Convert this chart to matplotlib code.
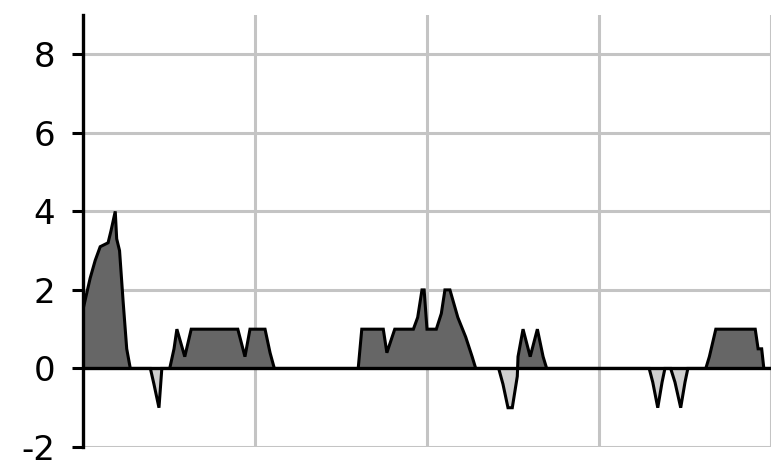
import matplotlib
matplotlib.use("Agg")
import matplotlib.pyplot as plt
import numpy as np

# Hourly net balance over four days (hours 0-96)
hours = [0, 1.0, 1.7, 2.4, 3.5, 3.9, 4.5, 4.7, 5.1, 5.6, 6.1, 6.6,
         9.4, 9.9, 10.6, 11.0,
         12.1, 12.7, 13.1, 14.2, 15.1, 21.6, 22.6, 23.3, 25.4, 26.1, 26.7,
         38.4, 38.9, 41.9, 42.4, 43.5, 46.1, 46.7, 47.3, 47.6, 48.0, 49.3,
         50.0, 50.5, 51.2, 52.3, 53.4, 54.3, 54.8,
         58.0, 58.6, 59.3, 59.9, 60.6, 60.7, 61.4, 62.4, 63.4, 64.2, 64.7,
         79.0, 79.5, 80.2, 80.8, 81.2, 82.0, 82.6, 83.4, 84.0, 84.4,
         86.9, 87.4, 88.3, 93.8, 94.2, 94.7, 95.0, 96]
values = [1.5, 2.3, 2.75, 3.1, 3.2, 3.5, 4.0, 3.3, 3.0, 1.7, 0.5, 0,
          0, -0.4, -1.0, 0,
          0, 0.5, 1.0, 0.3, 1.0, 1.0, 0.3, 1.0, 1.0, 0.4, 0,
          0, 1.0, 1.0, 0.4, 1.0, 1.0, 1.3, 2.0, 2.0, 1.0, 1.0,
          1.4, 2.0, 2.0, 1.3, 0.8, 0.3, 0,
          0, -0.4, -1.0, -1.0, -0.2, 0.3, 1.0, 0.3, 1.0, 0.3, 0,
          0, -0.35, -1.0, -0.35, 0, 0, -0.35, -1.0, -0.35, 0,
          0, 0.3, 1.0, 1.0, 0.5, 0.5, 0, 0]

y_ticks = [-2, 0, 2, 4, 6, 8]
day_lines = [24, 48, 72, 96]

x = np.array(hours)
y = np.array(values)

fig = plt.figure(figsize=(7.71, 4.71), dpi=100)
ax = fig.add_axes([83 / 771, 24 / 471, 688 / 771, 432 / 471])

ax.set_xlim(0, 96)
ax.set_ylim(-2, 9)

grid_color = "#c4c4c4"
for yt in y_ticks:
    if yt != 0:
        ax.axhline(yt, color=grid_color, lw=2.2, zorder=0)
for xd in day_lines:
    ax.axvline(xd, color=grid_color, lw=2.2, zorder=0)

ax.fill_between(x, 0, y, where=y >= 0, interpolate=True,
                color="#666666", lw=0, zorder=2)
ax.fill_between(x, 0, y, where=y <= 0, interpolate=True,
                color="#cfcfcf", lw=0, zorder=2)
ax.plot(x, y, color="black", lw=2.2, zorder=3, solid_joinstyle="miter")
ax.axhline(0, color="black", lw=2.4, zorder=4)

for side in ("top", "right", "bottom"):
    ax.spines[side].set_visible(False)
ax.spines["left"].set_linewidth(2.4)
ax.spines["left"].set_zorder(5)

ax.set_yticks(y_ticks)
ax.set_yticklabels([str(t) for t in y_ticks])
ax.tick_params(axis="y", length=8, width=2.2, pad=12,
               labelsize=24.5, colors="black")
ax.set_xticks([])

fig.savefig("out.png", dpi=100, facecolor="white")
